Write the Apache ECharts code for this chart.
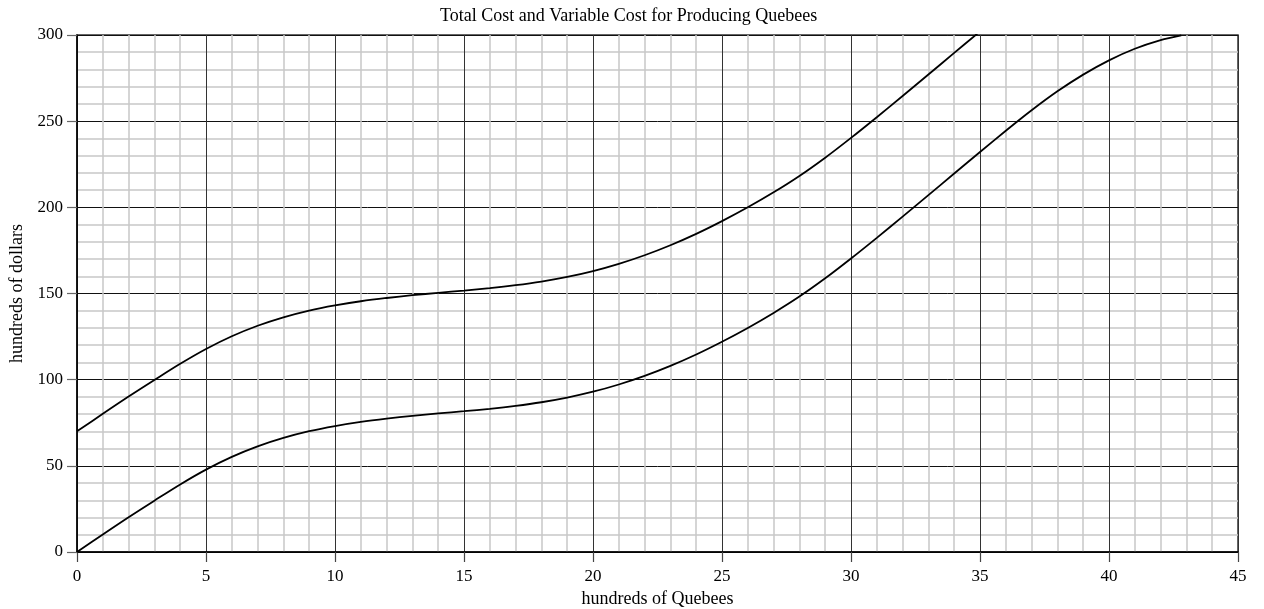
<!DOCTYPE html>
<html>
<head>
<meta charset="utf-8">
<script src="https://cdn.jsdelivr.net/npm/echarts@6/dist/echarts.min.js"></script>
<style>html,body{margin:0;padding:0;background:#fff}#c{width:1264px;height:609px}</style>
</head>
<body>
<div id="c"></div>
<script>
// Quantity (hundreds of Quebees) and costs (hundreds of dollars)
const vcQty    = [0, 1, 2, 3, 4, 5, 6, 7, 8, 9, 10, 11, 12, 13, 14, 15, 16, 17, 18, 19, 20, 21, 22, 23, 24, 25, 26, 27, 28, 29, 30, 31, 32, 33, 34, 35, 36, 37, 38, 39, 40, 41, 42, 42.8];
const vcValues = [0, 10.2, 20.2, 29.8, 39.2, 47.8, 55.2, 61.3, 66.2, 70.1, 73.1, 75.5, 77.4, 79, 80.4, 81.7, 83.1, 84.8, 86.9, 89.6, 93, 97.2, 102.2, 108, 114.6, 122, 130, 138.7, 148.2, 158.8, 170.3, 182.3, 194.6, 207.1, 219.6, 232.1, 244.4, 256.3, 267.3, 277, 285.3, 292, 297, 299.8];
const tcQty    = [0, 1, 2, 3, 4, 5, 6, 7, 8, 9, 10, 11, 12, 13, 14, 15, 16, 17, 18, 19, 20, 21, 22, 23, 24, 25, 26, 27, 28, 29, 30, 31, 32, 33, 34, 34.9];
const tcValues = [70, 80.2, 90.2, 99.8, 109.2, 117.8, 125.2, 131.3, 136.2, 140.1, 143.1, 145.5, 147.4, 149, 150.4, 151.7, 153.1, 154.8, 156.9, 159.6, 163, 167.2, 172.2, 178, 184.6, 192, 200, 208.7, 218.2, 228.8, 240.3, 252.3, 264.6, 277.1, 289.6, 300.8];
const xTicks = [0, 5, 10, 15, 20, 25, 30, 35, 40, 45];
const yTicks = [0, 50, 100, 150, 200, 250, 300];

const chart = echarts.init(document.getElementById('c'), null, {renderer: 'canvas'});
const font = '"Liberation Serif", "Times New Roman", serif';
const zip = (xs, ys) => xs.map((x, i) => [x, ys[i]]);

chart.setOption({
  animation: false,
  backgroundColor: '#fff',
  title: {
    text: 'Total Cost and Variable Cost for Producing Quebees',
    left: 435, top: 2,
    textStyle: {fontFamily: font, fontSize: 18, fontWeight: 'normal', color: '#000'}
  },
  grid: {left: 77, right: 26, top: 35, bottom: 57, containLabel: false, outerBoundsMode: 'none',
         show: true, borderColor: '#333', borderWidth: 1.5, backgroundColor: 'transparent'},
  xAxis: {
    type: 'value', min: xTicks[0], max: xTicks[xTicks.length - 1], interval: 5,
    name: 'hundreds of Quebees', nameLocation: 'middle', nameGap: 38,
    nameTextStyle: {fontFamily: font, fontSize: 18, color: '#000'},
    axisLine: {show: true, onZero: false, lineStyle: {color: '#000', width: 1.5}},
    axisTick: {show: true, inside: false, length: 10, lineStyle: {color: '#444', width: 1.2}},
    axisLabel: {fontFamily: font, fontSize: 17, color: '#000', margin: 16},
    splitLine: {show: true, lineStyle: {color: '#333', width: 1}},
    minorTick: {show: false, splitNumber: 5},
    minorSplitLine: {show: true, lineStyle: {color: '#c8c8c8', width: 1.5}}
  },
  yAxis: {
    type: 'value', min: yTicks[0], max: yTicks[yTicks.length - 1], interval: 50,
    name: 'hundreds of dollars', nameLocation: 'middle', nameGap: 45, nameRotate: 90,
    nameTextStyle: {fontFamily: font, fontSize: 18, color: '#000'},
    axisLine: {show: true, onZero: false, lineStyle: {color: '#000', width: 1.5}},
    axisTick: {show: true, inside: false, length: 10, lineStyle: {color: '#666', width: 1.2}},
    axisLabel: {fontFamily: font, fontSize: 17, color: '#000', margin: 14},
    splitLine: {show: true, lineStyle: {color: '#111', width: 1}},
    minorTick: {show: false, splitNumber: 5},
    minorSplitLine: {show: true, lineStyle: {color: '#c8c8c8', width: 1.5}}
  },
  series: [
    {
      name: 'Total Cost', type: 'line', data: zip(tcQty, tcValues),
      smooth: 0.3, showSymbol: false, clip: true,
      lineStyle: {color: '#000', width: 1.8}
    },
    {
      name: 'Variable Cost', type: 'line', data: zip(vcQty, vcValues),
      smooth: 0.3, showSymbol: false, clip: true,
      lineStyle: {color: '#000', width: 1.8}
    }
  ]
});
</script>
</body>
</html>
